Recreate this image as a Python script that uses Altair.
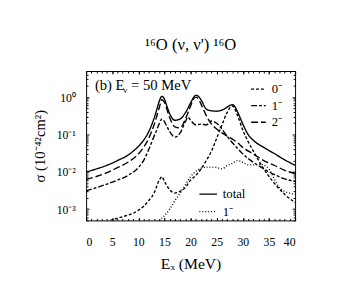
import altair as alt
import pandas as pd

# ---- data ----
total_x = [0, 2, 4, 6, 8, 10, 11, 12, 13, 13.5, 14, 14.5, 15, 15.5, 16, 17, 18, 19, 20, 20.5, 21, 21.5, 22, 23, 24, 25, 26, 27, 27.5, 28, 28.5, 29, 30, 31, 32, 34, 36, 38, 40]
total_y = [0.010, 0.012, 0.015, 0.020, 0.028, 0.048, 0.07, 0.12, 0.27, 0.45, 0.78, 1.05, 0.88, 0.55, 0.36, 0.24, 0.26, 0.38, 0.70, 0.95, 1.12, 1.05, 0.85, 0.48, 0.43, 0.42, 0.45, 0.54, 0.60, 0.63, 0.55, 0.40, 0.19, 0.10, 0.07, 0.045, 0.031, 0.021, 0.015]

two_x = [0, 2, 4, 6, 8, 10, 11, 12, 13, 13.5, 14, 14.5, 15, 15.5, 16, 17, 18, 19, 20, 20.5, 21, 21.5, 22, 23, 24, 25, 26, 27, 28, 29, 30, 32, 34, 36, 38, 40]
two_y = [0.0062, 0.0075, 0.0095, 0.013, 0.018, 0.030, 0.045, 0.08, 0.18, 0.30, 0.52, 0.85, 0.72, 0.45, 0.28, 0.16, 0.15, 0.26, 0.58, 0.85, 1.0, 0.9, 0.65, 0.32, 0.19, 0.14, 0.11, 0.09, 0.075, 0.06, 0.045, 0.03, 0.02, 0.015, 0.011, 0.009]

one_x = [0, 2, 4, 6, 8, 10, 11, 12, 13, 13.5, 14, 14.5, 15, 15.5, 16, 17, 18, 19, 19.5, 20, 21, 22, 23, 24, 25, 26, 27, 28, 29, 30, 32, 34, 36, 38, 40]
one_y = [0.0031, 0.0038, 0.0047, 0.006, 0.008, 0.013, 0.02, 0.04, 0.089, 0.13, 0.195, 0.26, 0.22, 0.16, 0.12, 0.085, 0.11, 0.22, 0.29, 0.24, 0.18, 0.19, 0.18, 0.23, 0.20, 0.14, 0.09, 0.06, 0.042, 0.03, 0.018, 0.012, 0.0085, 0.0065, 0.0055]

zero_x = [4.6, 7, 9, 11, 12, 13, 14, 14.5, 15, 16, 17, 18, 19, 20, 21, 22, 23, 24, 25, 26, 27, 28, 29, 30, 31, 32, 34, 36, 38, 40]
zero_y = [0.0005, 0.00063, 0.00078, 0.0012, 0.0017, 0.0027, 0.006, 0.0074, 0.0055, 0.0033, 0.0027, 0.003, 0.0038, 0.006, 0.008, 0.012, 0.02, 0.036, 0.08, 0.18, 0.39, 0.58, 0.32, 0.13, 0.065, 0.036, 0.012, 0.005, 0.0025, 0.0015]

dot_x = [14, 15, 16, 17, 18, 19, 20, 21, 22, 23, 24, 25, 26, 27, 28, 29, 30, 31, 32, 33, 34, 35, 36, 37, 38, 39, 40]
dot_y = [0.0005, 0.00067, 0.001, 0.0017, 0.0027, 0.0045, 0.0074, 0.0103, 0.0125, 0.0134, 0.0134, 0.013, 0.012, 0.0147, 0.017, 0.02, 0.018, 0.0153, 0.0153, 0.016, 0.015, 0.012, 0.0066, 0.0038, 0.003, 0.0027, 0.0025]

dash_names = ["0⁻", "1⁻", "2⁻"]
dash_patterns = [[3, 2], [6, 2, 3, 2], [7, 3]]
solid_names = ["total", "1⁻"]
solid_patterns = [[1, 0], [1, 2]]

x_major = list(range(0, 41, 5))
x_minor = list(range(0, 41, 1))
y_major = [0.001, 0.01, 0.1, 1]
y_minor = [m * 10.0 ** k for k in range(-4, 1) for m in range(2, 10) if 5e-4 <= m * 10.0 ** k <= 5]

FONT = "Liberation Serif"
W, H = 214, 153


def frame(xs, ys, name):
    return pd.DataFrame({"Ex": xs, "sigma": ys, "series": name})


dfA = pd.concat([frame(zero_x, zero_y, "0⁻"), frame(one_x, one_y, "1⁻"), frame(two_x, two_y, "2⁻")])
dfB = pd.concat([frame(total_x, total_y, "total"), frame(dot_x, dot_y, "1⁻")])

xsc = alt.Scale(domain=[0, 40], nice=False, zero=False)
ysc = alt.Scale(type="log", domain=[5e-4, 5], nice=False)

common_ax = dict(domain=False, grid=False, tickColor="black", tickWidth=1, labelColor="black")

y_label_expr = ("datum.value >= 0.5 ? '10⁰' : datum.value >= 0.05 ? '10⁻¹' : "
                "datum.value >= 0.005 ? '10⁻²' : '10⁻³'")

# Layer 1: dashed components + major axes with labels
ax_xb = alt.Axis(orient="bottom", values=x_major, format="d", offset=-3, tickSize=3,
                 labelPadding=17, labelFont=FONT, labelFontSize=12, title="Eₓ (MeV)",
                 titleFont=FONT, titleFontSize=16, titleFontWeight="normal", titleColor="black",
                 titlePadding=8, **common_ax)
ax_yl = alt.Axis(orient="left", values=y_major, labelExpr=y_label_expr, offset=-3, tickSize=3,
                 labelPadding=11, labelFont=FONT, labelFontSize=12, title="σ (10⁻⁴²cm²)",
                 titleFont=FONT, titleFontSize=15, titleFontWeight="normal", titleColor="black",
                 titlePadding=9, **common_ax)

layerA = alt.Chart(dfA).mark_line(color="black", strokeWidth=1.4, clip=True, interpolate="monotone").encode(
    x=alt.X("Ex:Q", scale=xsc, axis=ax_xb),
    y=alt.Y("sigma:Q", scale=ysc, axis=ax_yl),
    strokeDash=alt.StrokeDash("series:N", scale=alt.Scale(domain=dash_names, range=dash_patterns),
                              legend=alt.Legend(orient="none", legendX=168, legendY=10, title=None,
                                                symbolType="stroke", symbolSize=225, symbolStrokeWidth=1.4,
                                                symbolStrokeColor="black", labelFont=FONT, labelFontSize=13,
                                                labelColor="black", labelOffset=5, rowPadding=1, padding=0)),
    detail="series:N",
)

# Layer 2: total + dotted, minor ticks bottom/left
ax_xb_min = alt.Axis(orient="bottom", values=x_minor, offset=-2, tickSize=2, labels=False, title=None, **common_ax)
ax_yl_min = alt.Axis(orient="left", values=y_minor, offset=-2, tickSize=2, labels=False, title=None, **common_ax)

layerB = alt.Chart(dfB).mark_line(color="black", strokeWidth=1.4, clip=True, interpolate="monotone").encode(
    x=alt.X("Ex:Q", scale=xsc, axis=ax_xb_min),
    y=alt.Y("sigma:Q", scale=ysc, axis=ax_yl_min),
    strokeDash=alt.StrokeDash("series:N", scale=alt.Scale(domain=solid_names, range=solid_patterns),
                              legend=alt.Legend(orient="none", legendX=115, legendY=116, title=None,
                                                symbolType="stroke", symbolSize=324, symbolStrokeWidth=1.4,
                                                symbolStrokeColor="black", labelFont=FONT, labelFontSize=13,
                                                labelColor="black", labelOffset=5, rowPadding=1, padding=0)),
    detail="series:N",
)

# Layers 3 & 4: mirrored ticks on top/right (invisible marks)
ax_xt = alt.Axis(orient="top", values=x_major, offset=-3, tickSize=3, labels=False, title=None, **common_ax)
ax_yr = alt.Axis(orient="right", values=y_major, offset=-3, tickSize=3, labels=False, title=None, **common_ax)
ax_xt_min = alt.Axis(orient="top", values=x_minor, offset=-2, tickSize=2, labels=False, title=None, **common_ax)
ax_yr_min = alt.Axis(orient="right", values=y_minor, offset=-2, tickSize=2, labels=False, title=None, **common_ax)

layerC = alt.Chart(dfB).mark_line(strokeOpacity=0).encode(
    x=alt.X("Ex:Q", scale=xsc, axis=ax_xt),
    y=alt.Y("sigma:Q", scale=ysc, axis=ax_yr),
    detail="series:N",
)
layerD = alt.Chart(dfB).mark_line(strokeOpacity=0).encode(
    x=alt.X("Ex:Q", scale=xsc, axis=ax_xt_min),
    y=alt.Y("sigma:Q", scale=ysc, axis=ax_yr_min),
    detail="series:N",
)

# annotation "(b) E_ν = 50 MeV"
ann1 = alt.Chart(pd.DataFrame({"t": ["(b) E"]})).mark_text(
    align="left", baseline="middle", font=FONT, fontSize=15, color="black"
).encode(text="t:N", x=alt.value(9), y=alt.value(14))
ann2 = alt.Chart(pd.DataFrame({"t": ["ν"]})).mark_text(
    align="left", baseline="middle", font=FONT, fontSize=9, color="black"
).encode(text="t:N", x=alt.value(38), y=alt.value(19))
ann3 = alt.Chart(pd.DataFrame({"t": ["= 50 MeV"]})).mark_text(
    align="left", baseline="middle", font=FONT, fontSize=15, color="black"
).encode(text="t:N", x=alt.value(46), y=alt.value(14))

chart = alt.layer(layerA, layerB, layerC, layerD, ann1, ann2, ann3).resolve_scale(
    strokeDash="independent"
).resolve_axis(x="independent", y="independent").properties(
    width=W, height=H,
    title=alt.TitleParams("¹⁶O (ν, ν') ¹⁶O", font=FONT, fontSize=17, fontWeight="normal",
                          color="black", anchor="middle", offset=17),
    autosize=alt.AutoSizeParams(type="none"),
    padding={"left": 80, "top": 61, "right": 46, "bottom": 80},
).configure_view(stroke="black", strokeWidth=1)

chart.save("out.html", embed_options={"renderer": "svg", "actions": False})
